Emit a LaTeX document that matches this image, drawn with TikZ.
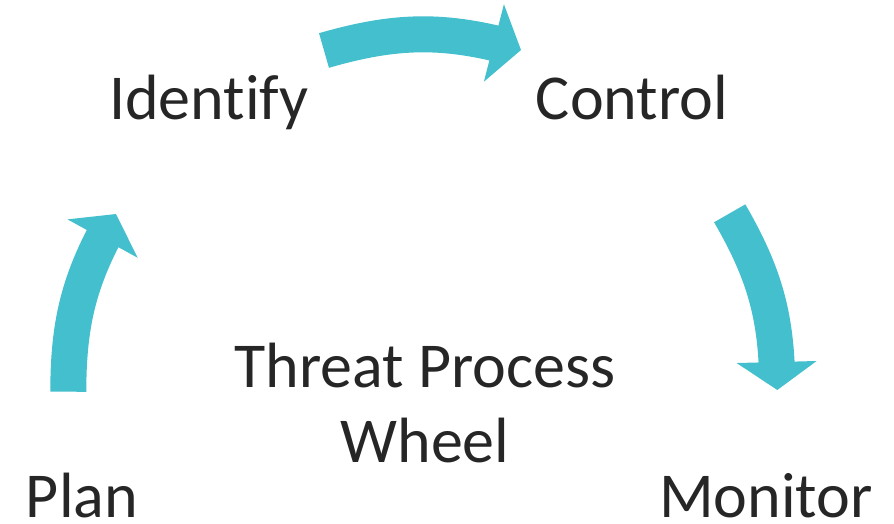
\documentclass[tikz,border=0pt]{standalone}
\usepackage{fontspec}
\setmainfont{Carlito}[Ligatures=NoCommon]
\usepackage{tikz}
\usetikzlibrary{arrows.meta, bending, positioning}
\definecolor{wheelcyan}{HTML}{44BFCD}
\definecolor{ink}{HTML}{262626}

\begin{document}
\begin{tikzpicture}[x=1pt, y=1pt,
    every node/.style={font=\fontsize{64}{75}\selectfont, text=ink, inner sep=0pt, anchor=base},
    flow/.style={draw=wheelcyan, line width=36pt,
      -{Triangle[width=80pt, length=28pt, line width=0pt]}}]
  \useasboundingbox (0,-523) rectangle (894,0);
  % the four stages and the title in the middle
  \node (identify) at (209,-119) {Identify};
  \node (control) at (632,-119) {Control};
  \node[text depth=0pt] (monitor) at (766,-517) {Monitor};
  \node[text depth=0pt] (plan) at (82,-517) {Plan};
  \node[align=center] (wheel) at (425,-462) {Threat Process\\Wheel};
  % tail and tip of each arrow
  \coordinate (top tail) at (324,-50.5);
  \coordinate (top tip) at (521,-50);
  \coordinate (right tail) at (729.7,-213.3);
  \coordinate (right tip) at (777.3,-390);
  \coordinate (left tail) at (68.3,-391.7);
  \coordinate (left tip) at (116,-214);
  \draw[flow] (top tail) to[bend left=16] (top tip);
  \draw[flow] (right tail) to[bend left=15] (right tip);
  \draw[flow] (left tail) to[bend left=15] (left tip);
\end{tikzpicture}
\end{document}
